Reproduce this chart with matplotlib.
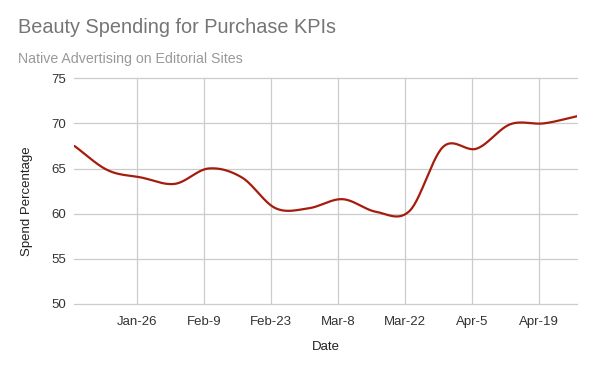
# 美妝支出 KPI 折線圖（平滑曲線）

import numpy as np
import pandas as pd
import matplotlib.pyplot as plt
import matplotlib.dates as mdates

dates = ["2020-01-13", "2020-01-20", "2020-01-27", "2020-02-03", "2020-02-10",
         "2020-02-17", "2020-02-24", "2020-03-02", "2020-03-09", "2020-03-16",
         "2020-03-23", "2020-03-30", "2020-04-06", "2020-04-13", "2020-04-20",
         "2020-04-27"]
spend = [67.5, 64.8, 64.0, 63.3, 65.0, 64.0, 60.6, 60.6, 61.6, 60.2,
         60.3, 67.4, 67.2, 69.9, 70.0, 70.8]

tick_dates = ["2020-01-26", "2020-02-09", "2020-02-23", "2020-03-08",
              "2020-03-22", "2020-04-05", "2020-04-19"]
tick_labels = ["Jan-26", "Feb-9", "Feb-23", "Mar-8", "Mar-22", "Apr-5", "Apr-19"]
y_ticks = [50, 55, 60, 65, 70, 75]

plt.rcParams['font.family'] = ['Liberation Sans', 'DejaVu Sans']

x = mdates.date2num(pd.to_datetime(dates))
y = np.array(spend)

# Catmull-Rom 平滑（只在資料點之間補線）
def smooth(x, y, n=30):
    px = np.concatenate([[2 * x[0] - x[1]], x, [2 * x[-1] - x[-2]]])
    py = np.concatenate([[2 * y[0] - y[1]], y, [2 * y[-1] - y[-2]]])
    xs, ys = [], []
    t = np.linspace(0, 1, n)
    h00 = 2 * t**3 - 3 * t**2 + 1
    h10 = t**3 - 2 * t**2 + t
    h01 = -2 * t**3 + 3 * t**2
    h11 = t**3 - t**2
    for i in range(1, len(px) - 2):
        mx0 = (px[i + 1] - px[i - 1]) / 2
        mx1 = (px[i + 2] - px[i]) / 2
        my0 = (py[i + 1] - py[i - 1]) / 2
        my1 = (py[i + 2] - py[i]) / 2
        xs.append(h00 * px[i] + h10 * mx0 + h01 * px[i + 1] + h11 * mx1)
        ys.append(h00 * py[i] + h10 * my0 + h01 * py[i + 1] + h11 * my1)
    return np.concatenate(xs), np.concatenate(ys)

sx, sy = smooth(x, y)

fig = plt.figure(figsize=(6, 3.71), dpi=100)
ax = fig.add_axes([0.124, 0.181, 0.838, 0.608])

ax.plot(sx, sy, color="#a61c0c", linewidth=1.6, solid_capstyle='round')

ax.set_xlim(x[0], x[-1])
ax.set_ylim(50, 75)
ax.set_yticks(y_ticks)
ax.set_xticks(mdates.date2num(pd.to_datetime(tick_dates)))
ax.set_xticklabels(tick_labels)

ax.grid(True, color="#cccccc", linewidth=0.9)
for g in ax.get_xgridlines() + ax.get_ygridlines():
    g.set_clip_on(False)
ax.set_axisbelow(True)
for s in ax.spines.values():
    s.set_visible(False)
ax.tick_params(axis='both', length=0, labelsize=9.5, colors="#333333")
ax.tick_params(axis='x', pad=9)
ax.tick_params(axis='y', pad=6)

ax.set_xlabel("Date", fontsize=9.5, color="#222222", labelpad=9)
ax.set_ylabel("Spend Percentage", fontsize=9.5, color="#222222")
ax.yaxis.set_label_coords(-0.083, 0.456)

fig.text(0.03, 0.91, "Beauty Spending for Purchase KPIs", fontsize=14.3,
         color="#757575", va='baseline')
fig.text(0.03, 0.83, "Native Advertising on Editorial Sites", fontsize=10.2,
         color="#999999", va='baseline')

fig.savefig("out.png", dpi=100)
